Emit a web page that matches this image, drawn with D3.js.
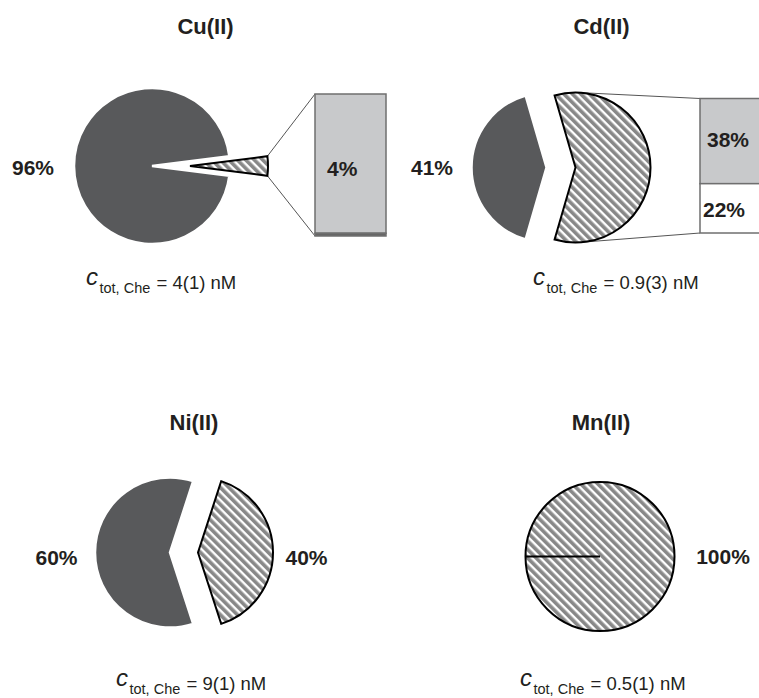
<!DOCTYPE html>
<html>
<head>
<meta charset="utf-8">
<script src="https://cdn.jsdelivr.net/npm/d3@7"></script>
<style>
  html, body { margin: 0; padding: 0; background: #fff; }
  svg { display: block; }
  text { font-family: "Liberation Sans", Arial, Helvetica, sans-serif; fill: #231f20; }
</style>
</head>
<body>
<script>
// ---------------- data ----------------
const metals = ["Cu(II)", "Cd(II)", "Ni(II)", "Mn(II)"];
const freeValues = [96, 41, 60, 0];          // dark slice
const chelatedValues = [4, 59, 40, 100];     // hatched slice
const freeLabels = ["96%", "41%", "60%", ""];
const chelatedLabels = ["", "", "40%", "100%"];
const boxUpperValues = [4, 38, null, null];   // grey part of the secondary bar
const boxLowerValues = [0.08, 22, null, null];// lower part of the secondary bar
const boxUpperLabels = ["4%", "38%", null, null];
const boxLowerLabels = ["", "22%", null, null];
const concentrations = ["4(1)", "0.9(3)", "9(1)", "0.5(1)"];

// ---------------- layout ----------------
const W = 759, H = 698;
const layout = [
  { cx: 152, cy: 166, r: 78, exFree: 0, exChel: 38, title: [205.5, 34],
    freeLab: [33, 175], chelLab: null,
    box: { x: 315, y0: 94, y1: 236, w: 71, lowFill: "#666", up: [327, 176, "start"], low: [327, 240, "start"] },
    formula: [86, 285] },
  { cx: 560.5, cy: 167.5, r: 75, exFree: 14, exChel: 15, title: [601.5, 34],
    freeLab: [432, 175], chelLab: null,
    box: { x: 700, y0: 98.5, y1: 233, w: 71, lowFill: "#fff", up: [707, 147, "start"], low: [703, 217, "start"] },
    formula: [533, 285] },
  { cx: 184, cy: 552.5, r: 75, exFree: 14, exChel: 14, title: [194, 430],
    freeLab: [56.5, 565], chelLab: [306.5, 565], box: null,
    formula: [116, 686] },
  { cx: 600, cy: 556.5, r: 74.5, exFree: 0, exChel: 0, title: [601, 430],
    freeLab: null, chelLab: [723, 564], box: null,
    formula: [520, 686] }
];

const DARK = "#58595b", GREY = "#c8c9cb", BOXSTROKE = "#6f6f6f";

const svg = d3.select("body").append("svg").attr("width", W).attr("height", H);

// hatch pattern
const P = 6;
const defs = svg.append("defs");
const pat = defs.append("pattern").attr("id", "hatch")
  .attr("patternUnits", "userSpaceOnUse")
  .attr("width", P).attr("height", P)
  .attr("patternTransform", "rotate(-45)");
pat.append("rect").attr("width", P).attr("height", P).attr("fill", "#fff");
pat.append("rect").attr("width", 3.6).attr("height", P).attr("fill", "#888");

metals.forEach((name, i) => {
  const L = layout[i];
  const g = svg.append("g");
  const chel = chelatedValues[i], free = freeValues[i];
  const span = 2 * Math.PI * chel / (chel + free);
  const start = Math.PI / 2 - span / 2;
  const pie = d3.pie().sort(null).value(d => d.v)
    .startAngle(start).endAngle(start + 2 * Math.PI);
  const arcs = pie([{ k: "chel", v: chel }, { k: "free", v: free }]);
  const arc = d3.arc().innerRadius(0).outerRadius(L.r);

  const offset = (a, ex) => {
    const mid = (a.startAngle + a.endAngle) / 2;
    return [L.cx + ex * Math.sin(mid), L.cy - ex * Math.cos(mid)];
  };

  const chelArc = arcs[0], freeArc = arcs[1];
  const chelC = offset(chelArc, L.exChel);

  // secondary bar + connector lines
  if (L.box && boxUpperValues[i] != null) {
    const B = L.box;
    const total = boxUpperValues[i] + boxLowerValues[i];
    const y = d3.scaleLinear().domain([0, total]).range([B.y0, B.y1]);
    let p1, p2;
    if (span < Math.PI) {
      p1 = [chelC[0] + L.r * Math.sin(chelArc.startAngle), chelC[1] - L.r * Math.cos(chelArc.startAngle)];
      p2 = [chelC[0] + L.r * Math.sin(chelArc.endAngle), chelC[1] - L.r * Math.cos(chelArc.endAngle)];
    } else {
      const tang = (Pt, upper) => {
        const dx = Pt[0] - chelC[0], dy = Pt[1] - chelC[1];
        const d = Math.hypot(dx, dy);
        const base = Math.atan2(dy, dx);
        const t = Math.acos(L.r / d);
        const ang = upper ? base - t : base + t;
        return [chelC[0] + L.r * Math.cos(ang), chelC[1] + L.r * Math.sin(ang)];
      };
      p1 = tang([B.x, B.y0], true);
      p2 = tang([B.x, B.y1], false);
    }
    g.append("line").attr("x1", p1[0]).attr("y1", p1[1]).attr("x2", B.x).attr("y2", y(0))
      .attr("stroke", "#555").attr("stroke-width", 1);
    g.append("line").attr("x1", p2[0]).attr("y1", p2[1]).attr("x2", B.x).attr("y2", y(total))
      .attr("stroke", "#555").attr("stroke-width", 1);

    g.append("rect").attr("x", B.x).attr("y", y(0)).attr("width", B.w)
      .attr("height", y(boxUpperValues[i]) - y(0))
      .attr("fill", GREY).attr("stroke", BOXSTROKE).attr("stroke-width", 1.5);
    g.append("rect").attr("x", B.x).attr("y", y(boxUpperValues[i])).attr("width", B.w)
      .attr("height", y(total) - y(boxUpperValues[i]))
      .attr("fill", B.lowFill).attr("stroke", BOXSTROKE).attr("stroke-width", 1.5);
    if (boxUpperLabels[i]) {
      g.append("text").attr("x", B.up[0]).attr("y", B.up[1]).attr("text-anchor", B.up[2])
        .attr("font-size", 21).attr("font-weight", "bold").text(boxUpperLabels[i]);
    }
    if (boxLowerLabels[i]) {
      g.append("text").attr("x", B.low[0]).attr("y", B.low[1]).attr("text-anchor", B.low[2])
        .attr("font-size", 21).attr("font-weight", "bold").text(boxLowerLabels[i]);
    }
  }

  // dark (free) slice
  if (free > 0) {
    const c = offset(freeArc, L.exFree);
    g.append("path").attr("d", arc(freeArc))
      .attr("transform", `translate(${c[0]},${c[1]})`)
      .attr("fill", DARK).attr("stroke", "#fff").attr("stroke-width", 2.5)
      .attr("stroke-linejoin", "miter");
  }
  // hatched (chelated) slice
  if (chel > 0) {
    g.append("path").attr("d", arc(chelArc))
      .attr("transform", `translate(${chelC[0]},${chelC[1]})`)
      .attr("fill", "url(#hatch)").attr("stroke", "#000").attr("stroke-width", 2)
      .attr("stroke-linejoin", "miter");
    if (free === 0) {
      g.append("line")
        .attr("x1", chelC[0]).attr("y1", chelC[1])
        .attr("x2", chelC[0] + L.r * Math.sin(chelArc.startAngle))
        .attr("y2", chelC[1] - L.r * Math.cos(chelArc.startAngle))
        .attr("stroke", "#000").attr("stroke-width", 2);
    }
  }

  // title
  g.append("text").attr("x", L.title[0]).attr("y", L.title[1]).attr("text-anchor", "middle")
    .attr("font-size", 22).attr("font-weight", "bold").text(name);

  // percent labels
  if (L.freeLab && freeLabels[i]) {
    g.append("text").attr("x", L.freeLab[0]).attr("y", L.freeLab[1]).attr("text-anchor", "middle")
      .attr("font-size", 21).attr("font-weight", "bold").text(freeLabels[i]);
  }
  if (L.chelLab && chelatedLabels[i]) {
    g.append("text").attr("x", L.chelLab[0]).attr("y", L.chelLab[1]).attr("text-anchor", "middle")
      .attr("font-size", 21).attr("font-weight", "bold").text(chelatedLabels[i]);
  }

  // concentration formula
  const [bx, by] = L.formula;
  const t = g.append("text");
  t.append("tspan").attr("x", bx).attr("y", by).attr("font-size", 24)
    .attr("font-style", "italic").text("c");
  t.append("tspan").attr("x", bx + 13.5).attr("y", by + 7.5).attr("font-size", 14.5).text("tot, Che");
  t.append("tspan").attr("x", bx + 70.5).attr("y", by + 4).attr("font-size", 18.5)
    .text("= " + concentrations[i] + " nM");
});
</script>
</body>
</html>
